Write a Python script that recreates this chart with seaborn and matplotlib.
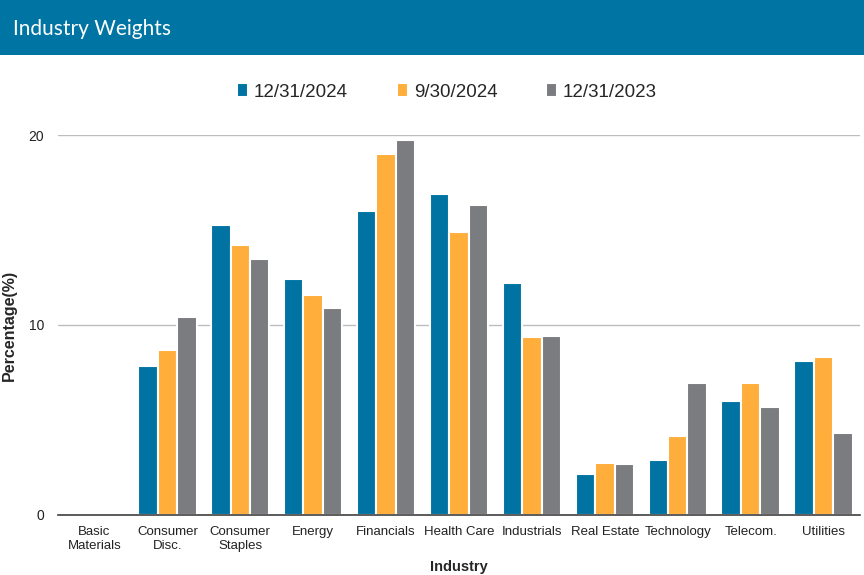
import matplotlib.pyplot as plt
import seaborn as sns
import pandas as pd
from matplotlib.patches import Rectangle

# values (percent weights)
industries = ["Basic\nMaterials", "Consumer\nDisc.", "Consumer\nStaples", "Energy",
              "Financials", "Health Care", "Industrials", "Real Estate",
              "Technology", "Telecom.", "Utilities"]
series_names = ["12/31/2024", "9/30/2024", "12/31/2023"]
w_2024q4 = [0.0, 7.85, 15.25, 12.4, 16.0, 16.9, 12.2, 2.15, 2.9, 6.0, 8.1]
w_2024q3 = [0.0, 8.7, 14.2, 11.6, 19.0, 14.9, 9.35, 2.75, 4.15, 6.95, 8.3]
w_2023q4 = [0.0, 10.4, 13.5, 10.9, 19.75, 16.3, 9.4, 2.7, 6.95, 5.7, 4.3]
palette = ["#0073A2", "#FFAD3B", "#7A7C80"]

df = pd.DataFrame({
    "Industry": industries * 3,
    "Series": [s for s in series_names for _ in industries],
    "Weight": w_2024q4 + w_2024q3 + w_2023q4,
})

sns.set_style("white")
plt.rcParams["font.family"] = ["Liberation Sans", "DejaVu Sans"]

fig = plt.figure(figsize=(8.64, 5.75), dpi=100)

# header banner
fig.patches.append(Rectangle((0, 1 - 55 / 575), 1, 55 / 575, transform=fig.transFigure,
                             facecolor="#0074A3", edgecolor="none", zorder=0))
fig.text(13 / 864, 1 - 29 / 575, "Industry Weights", color="white", fontsize=15,
         family=["Lato", "DejaVu Sans"], va="center", ha="left")

ax = fig.add_axes([58 / 864, 60 / 575, 802 / 864, 380 / 575])
sns.barplot(data=df, x="Industry", y="Weight", hue="Series", palette=palette,
            width=0.8, edgecolor="white", linewidth=1.5, saturation=1, ax=ax)

ax.set_xlim(-0.5, len(industries) - 0.5)
ax.set_ylim(0, 20)
ax.set_yticks([0, 10, 20])
ax.yaxis.grid(True, color="#BDBDBD", linewidth=1)
ax.set_axisbelow(True)
for side in ["top", "right", "left"]:
    ax.spines[side].set_visible(False)
ax.spines["bottom"].set_color("#404040")
ax.spines["bottom"].set_linewidth(1.2)
ax.tick_params(axis="both", length=0, labelsize=9.5, colors="#222222")
ax.tick_params(axis="y", pad=10, labelsize=10)
ax.tick_params(axis="x", pad=8)
ax.set_xlabel("Industry", fontsize=10.5, fontweight="bold", labelpad=6)
ax.set_ylabel("Percentage(%)", fontsize=11.5, fontweight="bold", labelpad=8)

handles, labels = ax.get_legend_handles_labels()
ax.get_legend().remove()
fig.legend(handles, labels, loc="center", bbox_to_anchor=(447 / 864, 1 - 92 / 575),
           ncol=3, frameon=False, fontsize=13.5, handlelength=0.6, handleheight=0.7,
           handletextpad=0.3, columnspacing=2.6)

fig.savefig("out.png", dpi=100)
